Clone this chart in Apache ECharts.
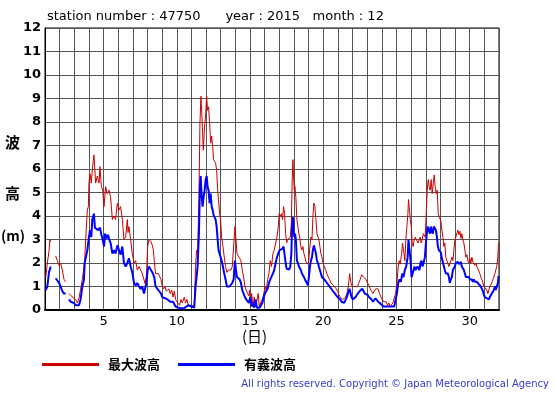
<!DOCTYPE html>
<html><head><meta charset="utf-8">
<script src="https://cdn.jsdelivr.net/npm/echarts@6/dist/echarts.min.js"></script>
<style>html,body{margin:0;padding:0;background:#fff}#c{width:555px;height:395px}</style>
</head><body><div id="c"></div>
<script>
const titleText = 'station number : 47750      year : 2015   month : 12';
const xTickLabels = [5, 10, 15, 20, 25, 30];
const yTickLabels = [0,1,2,3,4,5,6,7,8,9,10,11,12];
const seriesNames = ['最大波高', '有義波高'];
// [day, height m]; null values mark missing data
const maxWave = [
[1.05,1.4],[1.16,2.0],[1.27,2.5],[1.34,3.0],[1.37,2.9],[1.5,null],
[1.73,2.3],[1.84,2.1],[1.96,1.9],[2.07,2.0],[2.18,1.7],[2.30,1.3],[2.41,1.2],[2.5,null],
[2.64,0.7],[2.75,0.65],[2.87,0.55],[2.98,0.5],[3.09,0.45],[3.21,0.3],[3.32,0.5],[3.43,0.55],[3.55,1.3],[3.66,1.85],[3.71,2.1],[3.78,3.0],[3.89,4.25],[3.96,4.4],[4.00,5.4],[4.07,5.8],[4.16,5.4],[4.23,5.95],[4.34,6.6],[4.39,6.1],[4.46,5.4],[4.57,5.7],[4.69,5.4],[4.75,6.1],[4.85,5.25],[4.94,5.1],[5.03,4.4],[5.14,5.25],[5.25,4.95],[5.37,5.1],[5.48,4.8],[5.60,3.85],[5.71,4.0],[5.82,3.85],[5.94,4.55],[6.05,4.25],[6.16,4.4],[6.28,3.85],[6.39,3.0],[6.51,3.1],[6.62,3.85],[6.67,3.3],[6.73,3.55],[6.85,3.0],[6.96,2.4],[7.08,2.0],[7.19,2.1],[7.30,1.7],[7.42,1.85],[7.53,1.8],[7.64,1.55],[7.76,1.55],
[7.83,1.13],[7.92,1.4],[8.01,2.7],[8.10,3.0],[8.24,2.9],[8.33,2.75],[8.40,2.55],[8.46,2.1],[8.55,1.55],[8.65,1.6],[8.74,1.55],[8.83,1.6],[8.92,1.3],[9.01,1.0],[9.10,0.9],[9.19,1.0],[9.28,0.8],[9.37,0.85],[9.46,0.9],[9.55,0.7],[9.65,0.85],[9.74,0.55],[9.83,0.8],[9.92,0.45],[10.01,0.35],[10.10,0.3],[10.19,0.2],[10.28,0.45],[10.37,0.3],[10.51,0.55],[10.60,0.3],[10.69,0.45],[10.78,0.2],[10.90,0.15],[11.01,0.2],[11.19,0.15],[11.28,1.85],[11.35,2.55],[11.42,2.4],[11.51,4.7],[11.58,7.95],[11.65,9.1],[11.72,8.2],[11.81,6.8],[11.88,7.65],[11.97,8.35],[12.04,9.1],[12.10,8.5],[12.17,8.65],[12.24,7.95],[12.31,7.1],[12.38,7.4],[12.45,6.95],[12.51,6.4],[12.58,6.45],[12.65,6.25],[12.72,5.95],[12.79,5.1],[12.85,4.7],[12.92,4.1],[12.99,3.85],[13.06,3.1],[13.15,2.7],[13.24,2.25],[13.33,1.85],[13.42,1.6],[13.51,1.7],[13.60,1.75],[13.70,1.7],[13.79,1.85],[13.88,1.9],[13.97,3.55],[14.04,3.0],[14.11,2.4],[14.20,2.3],[14.29,2.2],[14.38,2.1],[14.47,1.7],[14.56,1.4],
[14.65,1.0],[14.77,0.95],[14.83,0.7],[14.92,0.6],[14.97,0.85],[15.04,0.15],[15.11,0.7],[15.20,0.15],[15.29,0.55],[15.38,0.15],[15.47,0.4],[15.56,0.7],[15.63,0.15],[15.70,0.1],[15.79,0.4],[15.90,0.55],[16.02,1.0],[16.11,0.85],[16.20,1.3],[16.29,1.55],[16.38,2.1],[16.47,1.85],[16.56,2.4],[16.65,2.55],[16.75,2.85],[16.84,3.1],[16.93,3.55],[16.99,4.1],[17.06,4.0],[17.15,4.1],[17.22,3.85],[17.29,4.4],[17.36,4.1],[17.43,3.25],[17.50,2.85],[17.56,3.0],[17.66,2.95],[17.75,3.1],[17.82,3.7],[17.88,5.55],[17.93,6.4],[17.97,5.7],[18.02,5.1],[18.07,5.25],[18.13,4.8],[18.20,3.85],[18.27,3.55],[18.34,3.25],[18.41,3.0],[18.47,2.7],[18.54,2.55],[18.61,2.7],[18.68,2.4],[18.75,2.25],[18.82,2.05],[18.88,2.0],[18.95,1.95],[19.02,2.15],[19.09,2.7],[19.16,3.1],[19.23,3.0],[19.29,3.95],[19.36,4.55],[19.43,4.4],[19.50,3.85],[19.57,3.25],[19.64,3.1],[19.70,3.0],[19.77,2.7],[19.84,2.4],[19.91,2.25],[19.98,2.0],[20.07,1.85],[20.16,1.7],[20.25,1.55],[20.34,1.4],[20.43,1.3],[20.52,1.15],[20.61,1.15],[20.70,1.05],[20.80,1.0],[20.89,0.9],[20.98,0.8],[21.07,0.65],[21.16,0.55],[21.25,0.5],[21.34,0.45],[21.43,0.45],
[21.52,0.55],[21.61,0.7],[21.71,1.0],[21.80,1.55],[21.89,1.15],[21.98,1.0],[22.07,0.95],[22.16,1.0],[22.25,1.05],[22.34,1.0],[22.43,1.15],[22.52,1.3],[22.62,1.5],[22.68,1.55],[22.75,1.4],[22.84,1.35],[22.93,1.3],[23.02,1.15],[23.12,1.05],[23.21,0.9],[23.30,0.8],[23.39,0.7],[23.48,0.8],[23.57,0.9],[23.66,0.85],[23.75,0.9],[23.84,0.7],[23.94,0.55],[24.03,0.45],[24.12,0.35],[24.21,0.3],[24.30,0.35],[24.39,0.2],[24.48,0.3],[24.57,0.15],[24.66,0.2],[24.75,0.3],[24.85,0.35],[24.94,0.7],[25.03,1.15],[25.12,1.85],[25.19,2.1],[25.25,1.95],[25.35,2.4],[25.41,2.85],[25.48,2.55],[25.57,2.1],[25.64,3.0],[25.71,3.55],[25.78,4.1],[25.82,4.7],[25.87,4.4],[25.94,3.85],[26.01,3.55],[26.07,2.85],[26.14,2.7],[26.21,3.0],[26.28,3.1],[26.35,3.0],[26.42,3.05],[26.48,2.85],[26.55,3.0],[26.62,3.1],[26.69,2.85],[26.76,3.0],[26.83,3.25],[26.89,3.25],[26.96,3.1],[27.03,4.1],[27.10,5.1],[27.17,5.55],[27.23,5.25],[27.30,5.1],[27.37,5.55],[27.44,4.95],[27.51,5.4],[27.58,5.75],[27.64,5.25],[27.71,4.95],[27.78,5.1],[27.85,4.1],[27.92,3.95],
[27.96,3.95],[28.03,3.8],[28.10,3.4],[28.17,3.1],[28.24,2.7],[28.30,2.85],[28.37,2.25],[28.44,2.1],[28.51,2.15],[28.58,1.85],[28.64,1.8],[28.71,2.1],[28.78,2.25],[28.85,2.1],[28.92,2.55],[28.99,3.0],[29.05,3.1],[29.12,3.05],[29.19,3.4],[29.26,3.2],[29.33,3.35],[29.40,3.05],[29.46,3.25],[29.53,3.0],[29.60,2.85],[29.67,2.55],[29.74,2.25],[29.81,2.35],[29.87,2.1],[29.94,2.0],[30.01,2.2],[30.08,2.0],[30.15,2.25],[30.21,2.05],[30.28,2.0],[30.35,1.9],[30.42,2.0],[30.49,1.85],[30.56,1.75],[30.62,1.7],[30.69,1.55],[30.76,1.4],[30.83,1.3],[30.90,1.15],[30.97,1.0],[31.03,0.95],[31.10,1.05],[31.17,0.85],[31.24,0.7],[31.31,0.85],[31.37,1.0],[31.44,0.95],[31.51,1.15],[31.58,1.3],[31.65,1.4],[31.72,1.55],[31.78,1.7],[31.85,1.85],[31.92,2.25],[31.97,2.85]
];
const sigWave = [
[1.05,0.85],[1.16,1.0],[1.27,1.6],[1.34,1.75],[1.39,1.85],[1.5,null],
[1.73,1.35],[1.84,1.3],[1.96,1.15],[2.07,1.0],[2.18,0.8],[2.30,0.7],[2.41,0.7],[2.5,null],
[2.64,0.45],[2.75,0.35],[2.87,0.3],[2.98,0.3],[3.09,0.2],[3.21,0.2],[3.32,0.2],[3.43,0.45],[3.55,1.0],[3.66,1.3],[3.71,2.0],[3.78,2.05],[3.89,2.55],[4.00,3.1],[4.07,3.4],[4.16,3.1],[4.23,3.85],[4.34,4.1],[4.41,3.5],[4.53,3.55],[4.62,3.4],[4.75,3.5],[4.85,3.2],[4.94,3.0],[5.03,2.7],[5.10,3.25],[5.21,3.05],[5.30,3.2],[5.39,3.0],[5.48,2.85],[5.60,2.4],[5.71,2.55],[5.82,2.4],[5.94,2.75],[6.05,2.55],[6.16,2.35],[6.28,2.7],[6.39,2.0],[6.51,1.85],[6.62,2.0],[6.73,2.2],[6.85,1.85],[6.96,1.6],[7.08,1.15],[7.19,1.05],[7.30,1.15],[7.42,1.0],[7.53,0.9],[7.64,1.0],[7.76,0.7],
[7.83,0.7],[7.92,1.15],[8.01,1.7],[8.10,1.85],[8.19,1.75],[8.28,1.7],[8.37,1.55],[8.46,1.4],[8.55,1.0],[8.65,0.95],[8.74,0.85],[8.83,0.85],[8.92,0.7],[9.01,0.55],[9.10,0.6],[9.19,0.5],[9.28,0.55],[9.37,0.45],[9.46,0.45],[9.55,0.35],[9.65,0.3],[9.74,0.35],[9.83,0.3],[9.92,0.15],[10.01,0.2],[10.10,0.1],[10.19,0.1],[10.28,0.07],[10.37,0.15],[10.47,0.07],[10.56,0.15],[10.78,0.2],[11.01,0.15],[11.19,0.1],[11.28,1.0],[11.35,1.4],[11.42,1.85],[11.51,3.25],[11.58,5.25],[11.63,5.7],[11.69,4.95],[11.76,4.4],[11.83,4.8],[11.90,5.1],[11.97,5.55],[12.04,5.7],[12.10,5.25],[12.17,5.1],[12.24,4.55],[12.31,4.95],[12.38,4.4],[12.45,4.25],[12.51,4.05],[12.58,4.1],[12.65,3.85],[12.72,3.55],[12.79,3.0],[12.85,2.55],[12.92,2.4],[12.99,2.25],[13.06,2.1],[13.15,1.85],[13.24,1.55],[13.33,1.3],[13.42,1.0],[13.51,1.05],[13.60,1.0],[13.70,1.05],[13.79,1.15],[13.88,1.3],[13.97,2.1],[14.04,1.7],[14.11,1.4],[14.20,1.35],[14.29,1.3],[14.38,1.15],[14.47,0.85],[14.56,0.7],
[14.65,0.55],[14.74,0.45],[14.83,0.5],[14.92,0.3],[15.02,0.55],[15.11,0.15],[15.20,0.3],[15.29,0.1],[15.38,0.45],[15.47,0.1],[15.56,0.15],[15.65,0.1],[15.74,0.1],[15.84,0.3],[15.93,0.55],[16.02,0.7],[16.11,0.78],[16.20,0.9],[16.29,1.15],[16.38,1.3],[16.47,1.35],[16.56,1.55],[16.65,1.7],[16.75,2.0],[16.84,2.25],[16.93,2.4],[17.02,2.55],[17.11,2.55],[17.20,2.6],[17.29,2.7],[17.36,2.7],[17.43,2.0],[17.50,1.75],[17.56,1.7],[17.66,1.72],[17.75,1.85],[17.82,2.4],[17.88,3.7],[17.93,3.95],[17.97,3.4],[18.02,3.1],[18.07,3.25],[18.13,3.0],[18.20,2.1],[18.27,2.0],[18.34,1.85],[18.41,1.8],[18.47,1.7],[18.54,1.55],[18.61,1.6],[18.68,1.4],[18.75,1.3],[18.82,1.25],[18.88,1.15],[18.95,1.05],[19.02,1.4],[19.09,1.85],[19.16,2.1],[19.23,2.25],[19.29,2.55],[19.36,2.75],[19.43,2.7],[19.50,2.4],[19.57,2.1],[19.64,2.0],[19.70,1.85],[19.77,1.7],[19.84,1.55],[19.91,1.4],[19.98,1.35],[20.07,1.3],[20.16,1.25],[20.25,1.15],[20.34,1.1],[20.43,1.0],[20.52,0.95],[20.61,0.85],[20.70,0.8],[20.80,0.7],[20.89,0.68],[20.98,0.55],[21.07,0.5],[21.16,0.45],[21.25,0.35],[21.34,0.3],[21.43,0.3],
[21.52,0.35],[21.61,0.55],[21.71,0.75],[21.80,0.9],[21.84,0.85],[21.93,0.55],[22.02,0.45],[22.11,0.5],[22.21,0.55],[22.30,0.65],[22.39,0.7],[22.48,0.8],[22.57,0.85],[22.66,0.9],[22.75,0.8],[22.84,0.7],[22.93,0.78],[23.02,0.65],[23.12,0.55],[23.21,0.5],[23.30,0.45],[23.39,0.35],[23.48,0.42],[23.57,0.5],[23.66,0.42],[23.75,0.35],[23.84,0.3],[23.94,0.25],[24.03,0.2],[24.12,0.15],[24.21,0.17],[24.30,0.15],[24.39,0.07],[24.48,0.15],[24.57,0.07],[24.66,0.15],[24.75,0.12],[24.85,0.15],[24.94,0.45],[25.03,0.7],[25.12,1.15],[25.21,1.3],[25.30,1.2],[25.39,1.55],[25.48,1.4],[25.57,1.7],[25.66,1.85],[25.76,2.25],[25.82,3.0],[25.89,2.55],[25.96,2.1],[26.03,1.4],[26.10,1.55],[26.17,1.7],[26.23,1.85],[26.30,1.7],[26.37,1.78],[26.44,1.85],[26.51,1.78],[26.57,1.7],[26.64,2.0],[26.71,2.1],[26.78,1.85],[26.85,2.0],[26.94,2.25],[27.01,2.85],[27.07,3.25],[27.14,3.55],[27.21,3.5],[27.28,3.25],[27.35,3.55],[27.42,3.35],[27.48,3.25],[27.55,3.55],[27.62,3.6],[27.69,3.4],[27.76,3.1],[27.83,2.7],[27.89,2.55],
[27.96,2.5],[28.03,2.45],[28.10,2.2],[28.17,2.15],[28.24,1.85],[28.30,1.7],[28.37,1.55],[28.44,1.6],[28.51,1.55],[28.58,1.4],[28.64,1.15],[28.71,1.3],[28.78,1.4],[28.85,1.7],[28.92,1.75],[28.99,1.85],[29.05,2.0],[29.12,1.95],[29.19,2.05],[29.26,1.95],[29.33,2.0],[29.40,2.05],[29.46,1.85],[29.53,1.78],[29.60,1.7],[29.67,1.55],[29.74,1.4],[29.81,1.45],[29.87,1.35],[29.94,1.4],[30.01,1.3],[30.08,1.35],[30.15,1.3],[30.21,1.2],[30.28,1.3],[30.35,1.2],[30.42,1.15],[30.49,1.2],[30.56,1.15],[30.62,1.1],[30.69,1.05],[30.76,1.0],[30.83,0.95],[30.90,0.8],[30.97,0.65],[31.03,0.55],[31.10,0.58],[31.17,0.5],[31.24,0.45],[31.31,0.45],[31.37,0.55],[31.44,0.6],[31.51,0.7],[31.58,0.75],[31.65,0.85],[31.72,1.0],[31.78,0.85],[31.85,1.0],[31.92,1.15],[31.97,1.45]
];

const chart = echarts.init(document.getElementById('c'), null, {renderer: 'canvas'});
const FONT = 'DejaVu Sans';
chart.setOption({
  animation: false,
  backgroundColor: '#fff',
  title: {
    text: titleText, left: 42, top: 5,
    textStyle: {fontFamily: FONT, fontSize: 13, fontWeight: 'normal', color: '#000'}
  },
  grid: {left: 45, right: 56, top: 28, bottom: 85, show: true, borderColor: '#000', borderWidth: 1},
  legend: {
    left: 42, top: 358, padding: 0, itemWidth: 57, itemHeight: 3, itemGap: 18, icon: 'rect', selectedMode: false,
    data: seriesNames,
    textStyle: {fontFamily: 'Noto Sans CJK JP', fontSize: 13, fontWeight: 'bold', color: '#000', padding: [0,0,0,4]}
  },
  xAxis: {
    type: 'value', min: 1, max: 32, interval: 1,
    axisLine: {show: true, lineStyle: {color: '#000', width: 2}},
    axisTick: {show: false},
    splitLine: {show: true, lineStyle: {color: '#555', width: 1}},
    axisLabel: {
      fontFamily: FONT, fontSize: 13, color: '#000', margin: 5,
      formatter: v => xTickLabels.indexOf(v) >= 0 ? String(v) : ''
    }
  },
  yAxis: {
    type: 'value', min: 0, max: 12, interval: 1,
    axisLine: {show: true, lineStyle: {color: '#000', width: 1}},
    axisTick: {show: false},
    splitLine: {show: true, lineStyle: {color: '#555', width: 1}},
    axisLabel: {
      fontFamily: FONT, fontSize: 13, fontWeight: 'bold', color: '#000', margin: 4,
      formatter: v => yTickLabels.indexOf(v) >= 0 ? String(v) : ''
    }
  },
  graphic: [
    {type: 'text', left: 5, top: 135, style: {text: '波', font: 'bold 15px "Noto Sans CJK JP"', fill: '#000'}},
    {type: 'text', left: 5, top: 186, style: {text: '高', font: 'bold 15px "Noto Sans CJK JP"', fill: '#000'}},
    {type: 'text', left: 1, top: 229, style: {text: '(m)', font: 'bold 14px "Noto Sans CJK JP"', fill: '#000'}},
    {type: 'text', left: 242, top: 329, style: {text: '(日)', font: '15px "Noto Sans CJK JP"', fill: '#000'}},
    {type: 'text', right: 6, top: 379, style: {text: 'All rights reserved. Copyright © Japan Meteorological Agency', font: '10px "DejaVu Sans"', fill: '#3a3acc'}}
  ],
  series: [
    {name: seriesNames[0], type: 'line', data: maxWave, showSymbol: false, symbol: 'none',
     lineStyle: {color: '#cc0000', width: 1}, itemStyle: {color: '#cc0000'}, connectNulls: false},
    {name: seriesNames[1], type: 'line', data: sigWave, showSymbol: false, symbol: 'none',
     lineStyle: {color: '#0000ff', width: 2}, itemStyle: {color: '#0000ff'}, connectNulls: false}
  ]
});
</script></body></html>
